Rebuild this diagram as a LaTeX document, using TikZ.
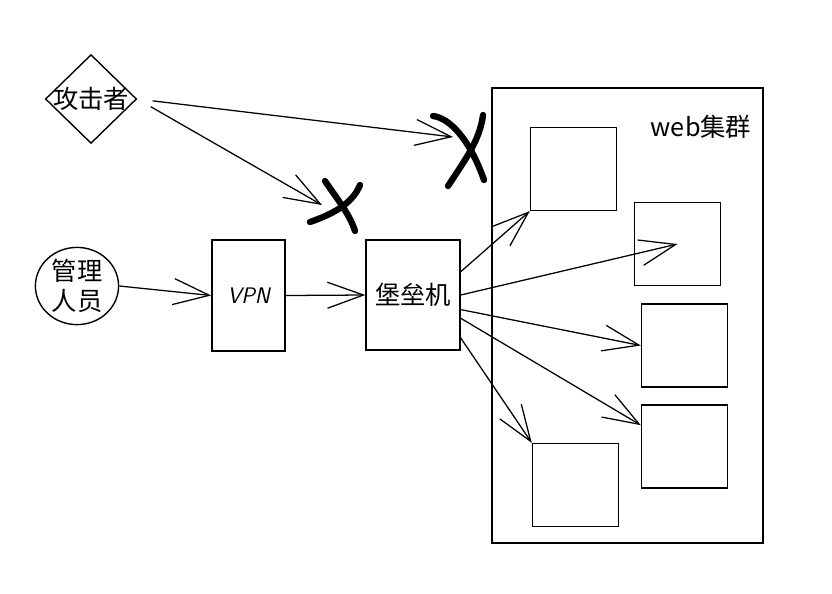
\documentclass[tikz,border=0pt]{standalone}
\usepackage{fontspec}
\newfontfamily\cjk{Noto Sans CJK SC}
\usetikzlibrary{shapes.geometric,arrows.meta}
\begin{document}
\begin{tikzpicture}
[x=0.025cm,y=-0.025cm,
  boxDecorate/.style={shape=rectangle,draw,line width=1pt,inner sep=0pt},%
  hostDecorate/.style={boxDecorate,minimum width=2.15cm,minimum height=2.07cm},%
  lineDecorate/.style={-{Straight Barb[length=9mm,width=6.5mm]},line width=0.9pt},%
  crossDecorate/.style={line width=4.5pt,line cap=round},%
  font=\cjk\fontsize{18}{21}\selectfont]
\useasboundingbox (0,0) rectangle (832,593);
%% people
\node (atk) at (91,99) [shape=diamond,draw,line width=1pt,inner sep=0pt,
  minimum width=2.28cm,minimum height=2.22cm,label=center:攻击者] {};
\node (mgr) at (77,286) [shape=ellipse,draw,line width=1pt,inner sep=0pt,
  minimum width=2.08cm,minimum height=1.93cm,
  label={[align=center]center:管理\\人员}] {};
%% gateways
\node (vpn) at (248.5,295.5) [boxDecorate,minimum width=1.83cm,minimum height=2.78cm,
  font=\sffamily\itshape\fontsize{16}{18}\selectfont] {VPN};
\node (fort) at (413,295) [boxDecorate,minimum width=2.35cm,minimum height=2.75cm] {堡垒机};
%% web cluster
\node (web) at (627.5,315.5) [boxDecorate,minimum width=6.78cm,minimum height=11.38cm] {};
\node (webname) at (701,127) {web集群};
\foreach \nodename/\x/\y in {
  b1/573.5/169, b2/677.5/244, b3/684.5/345.5,
  b4/684.5/446.5, b5/575.5/485}
{
  \node (\nodename) at (\x,\y) [hostDecorate] {};
}
%% blocked attempts
\coordinate (hitA) at (322,205);
\coordinate (hitB) at (453,137);
\draw[crossDecorate] (310,222) .. controls (330,215) and (352,205) .. (360,185);
\draw[crossDecorate] (325,181) .. controls (338,200) and (350,215) .. (355,231);
\draw[crossDecorate] (433,116) .. controls (450,118) and (470,140) .. (484,180);
\draw[crossDecorate] (483,115) .. controls (480,140) and (465,160) .. (448,186);
%% edges or lines
\path
\foreach \startnode/\endnode in {atk.east/hitB, atk.east/hitA}
{
  (\startnode) edge[lineDecorate,shorten <=11pt] (\endnode)
};
\path
\foreach \startnode/\endnode in {
  mgr.east/vpn.west, vpn.east/fort.west,
  fort.26/b1.south west, fort.east/b2.center, fort.-17/b3.west,
  fort.-26/b4.154, fort.-42/b5.north west}
{
  (\startnode) edge[lineDecorate] (\endnode)
};
\end{tikzpicture}
\end{document}
